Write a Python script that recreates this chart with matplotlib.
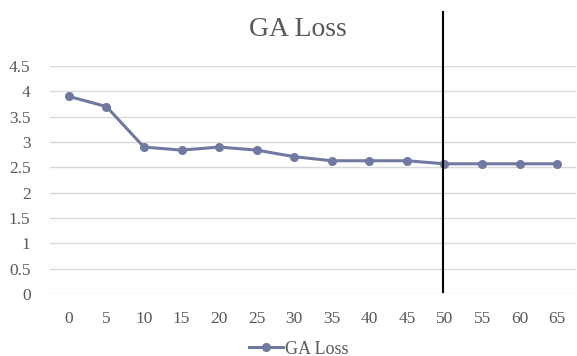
import matplotlib.pyplot as plt

epochs = ["0", "5", "10", "15", "20", "25", "30", "35", "40", "45", "50", "55", "60", "65"]
ga_loss = [3.9, 3.7, 2.9, 2.84, 2.9, 2.84, 2.71, 2.63, 2.63, 2.63, 2.57, 2.57, 2.57, 2.57]
y_ticks = [0, 0.5, 1, 1.5, 2, 2.5, 3, 3.5, 4, 4.5]
y_tick_labels = ["0", "0.5", "1", "1.5", "2", "2.5", "3", "3.5", "4", "4.5"]
marker_epoch = "50"

plt.rcParams["font.family"] = "Liberation Serif"
text_color = "#595959"
line_color = "#7079A1"

fig = plt.figure(figsize=(5.77, 3.56), dpi=100)
ax = fig.add_axes([50 / 577, 1 - 294 / 356, 526 / 577, 228 / 356])

x = list(range(len(epochs)))
ax.plot(x, ga_loss, color=line_color, linewidth=2.2, marker="o", markersize=5.5, label="GA Loss")

ax.axvline(epochs.index(marker_epoch) - 0.05, ymin=0.01, ymax=1.237, color="black", linewidth=1.5, clip_on=False)

ax.set_xlim(-0.5, len(epochs) - 0.5)
ax.set_ylim(0, 4.5)
ax.set_xticks(x)
ax.set_xticklabels(epochs)
ax.set_yticks(y_ticks)
ax.set_yticklabels(y_tick_labels)
ax.tick_params(axis="both", length=0, labelsize=12.5, labelcolor=text_color)
ax.tick_params(axis="x", pad=12)
ax.tick_params(axis="y", pad=14)
for label in ax.get_yticklabels():
    label.set_horizontalalignment("right")

ax.grid(axis="y", color="#d9d9d9", linewidth=1)
ax.set_axisbelow(True)
for spine in ax.spines.values():
    spine.set_visible(False)

fig.text(0.516, 1 - 30 / 356, "GA Loss", ha="center", va="center", fontsize=20, color=text_color)
fig.legend(loc="center", bbox_to_anchor=(0.517, 1 - 349 / 356), frameon=False, fontsize=13,
           labelcolor=text_color, handlelength=1.9, handletextpad=0.1)

fig.savefig("out.png", dpi=100)
